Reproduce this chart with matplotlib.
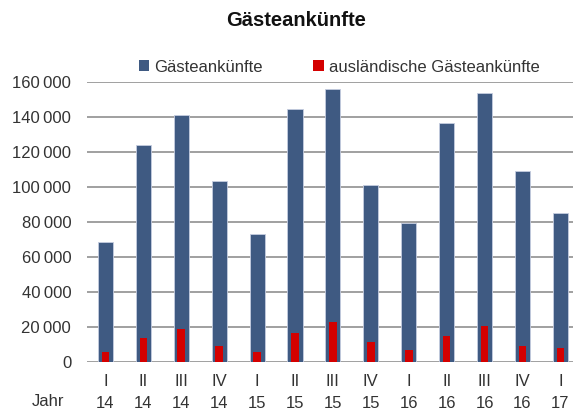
import numpy as np
import matplotlib
matplotlib.use("Agg")
from matplotlib import pyplot as plt
from matplotlib.patches import Patch

plt.rcParams['font.family'] = ['Liberation Sans', 'DejaVu Sans']

quartale = ['I', 'II', 'III', 'IV', 'I', 'II', 'III', 'IV', 'I', 'II', 'III', 'IV', 'I']
jahre = ['14', '14', '14', '14', '15', '15', '15', '15', '16', '16', '16', '16', '17']
gaesteankuenfte = [68300, 123900, 141100, 103200, 73100, 144700, 156000, 101300,
                   79500, 136700, 153900, 109000, 85300]
auslaendische = [5300, 13300, 18800, 8700, 5300, 16700, 22500, 11200,
                 6600, 14600, 20300, 8700, 7600]

blau = '#3f5a82'
rot = '#d40000'
text_col = '#333333'

fig = plt.figure(figsize=(5.73, 4.11), dpi=100)
ax = fig.add_axes([0.151, 0.120, 0.86, 0.680])

x = np.arange(len(quartale))
ax.bar(x, gaesteankuenfte, width=0.4, color=blau, edgecolor='#c5cde0', linewidth=0.6, zorder=3)
ax.bar(x, auslaendische, width=0.2, color=rot, edgecolor='none', zorder=4)

ax.set_xlim(-0.5, 12.5)
ax.set_ylim(0, 160000)
yt = np.arange(0, 160001, 20000)
ax.set_yticks(yt)
ax.set_yticklabels([f"{v:,}".replace(',', '\u2009') if v else '0' for v in yt],
                   fontsize=12, color=text_col)
ax.yaxis.grid(True, color='#a0a0a0', linewidth=1.4, zorder=0)
ax.tick_params(axis='y', length=0, pad=11)
ax.set_xticks(x)
ax.set_xticklabels([f"{q}\n{j}" for q, j in zip(quartale, jahre)],
                   fontsize=12, color=text_col, linespacing=1.6)
ax.tick_params(axis='x', length=0, pad=9)
for s in ax.spines.values():
    s.set_visible(False)

fig.text(48 / 573, 1 - 401 / 411, 'Jahr', fontsize=12, color=text_col,
         ha='center', va='center')

fig.text(296 / 573, 1 - 20 / 411, 'Gästeankünfte', fontsize=14.5, fontweight='bold',
         ha='center', va='center', color='#111111')

handles = [Patch(facecolor=blau, edgecolor='none'), Patch(facecolor=rot, edgecolor='none')]
fig.legend(handles, ['Gästeankünfte', 'ausländische Gästeankünfte'], ncol=2,
           loc='center', bbox_to_anchor=(339 / 573, 1 - 67 / 411), frameon=False,
           fontsize=12, handlelength=0.65, handleheight=0.65, handletextpad=0.3,
           columnspacing=3.0, labelcolor=text_col)

fig.savefig('out.png', dpi=100)
